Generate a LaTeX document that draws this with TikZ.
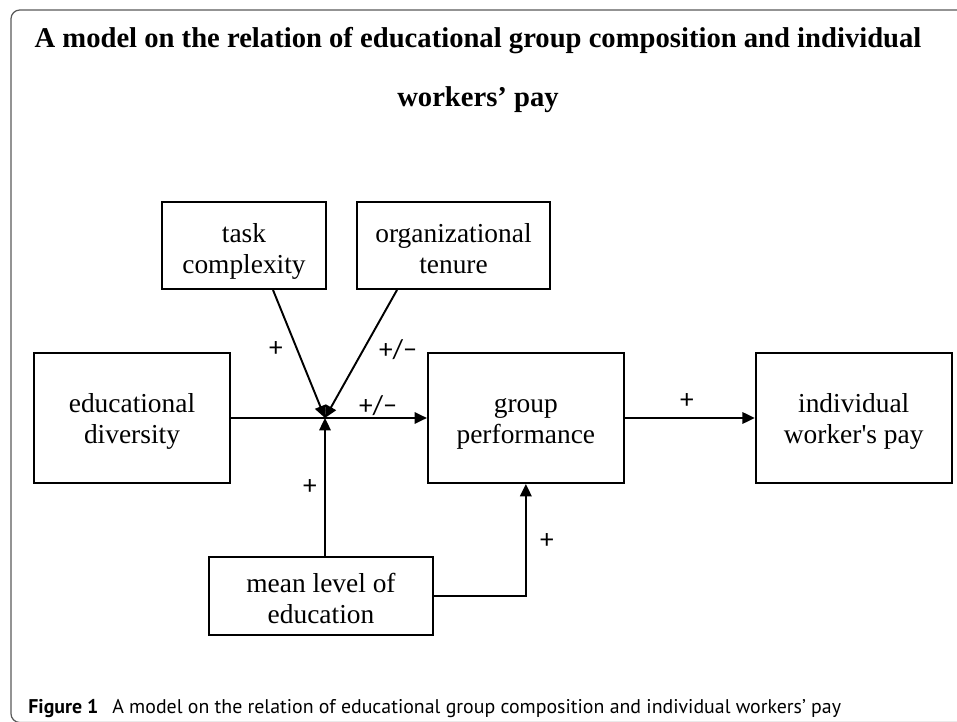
\documentclass[tikz,border=0pt]{standalone}
\usepackage{fontspec}
\setmainfont{Liberation Serif}
\setsansfont{PT Sans}
\newfontfamily\signfont{Carlito}
\usetikzlibrary{positioning, arrows.meta}

\begin{document}
\begin{tikzpicture}[
    x=0.02cm, y=-0.02cm,
    factor/.style={rectangle, draw=black, line width=1.1pt, minimum width=3.92cm, minimum height=2.6cm, align=center, font=\fontsize{15.6}{17.6}\selectfont, inner sep=2pt, text height=34pt, text depth=4.5pt},
    moderator/.style={factor, minimum height=1.74cm, text height=36pt},
    arrow/.style={line width=1.1pt, -{Triangle[length=7pt, width=6.5pt]}},
    sign/.style={font=\signfont\fontsize{15.5}{16}\selectfont, inner sep=1pt},
]

% Frame
\useasboundingbox (0,0) rectangle (957,722);
\draw[black!65, line width=0.7pt, rounded corners=5pt] (11,10) rectangle (1010,722.5);

% Title
\node[font=\bfseries\fontsize{16.3}{34}\selectfont, align=center] (title) at (478,70) {A model on the relation of educational group composition and individual\\workers' pay};

% Main row
\node[factor] (diversity) at (132,418) {educational\\diversity};
\node[factor, right=3.92cm of diversity] (perf) {group\\performance};
\node[factor, right=2.6cm of perf] (pay) {individual\\worker\textquotesingle s pay};

% Moderators
\node[moderator, minimum width=3.28cm] (task) at (244,245.5) {task\\complexity};
\node[moderator, minimum width=3.86cm] (tenure) at (453.5,245.5) {organizational\\tenure};
\node[factor, minimum width=4.48cm, minimum height=1.56cm, text height=36pt] (mean) at (321,596) {mean level of\\education};

% Junction of the moderators
\coordinate (mod) at (325,418);

% Arrows
\draw[arrow] (diversity) -- (perf);
\draw[arrow] ([xshift=0.58cm]task.south) -- (mod);
\draw[arrow] ([xshift=-1.13cm]tenure.south) -- (mod);
\draw[arrow] (mean.north -| mod) -- (mod);
\draw[arrow] (mean.east) -| (perf.south);
\draw[arrow] (perf) -- (pay);

% Signs
\node[sign] (signtask) at (276,349) {+};
\node[sign] (signtenure) at (398,350) {+/−};
\node[sign] (signdiv) at (378,406) {+/−};
\node[sign] (signpay) at (687,401) {+};
\node[sign] (signmean) at (310,487) {+};
\node[sign] (signlevel) at (547,541) {+};

% Caption
\node[anchor=base west, font=\sffamily\fontsize{11.3}{13}\selectfont, inner sep=0pt] (caption) at (28,713) {\textbf{Figure 1}\hspace{0.7em}A model on the relation of educational group composition and individual workers’ pay};

\end{tikzpicture}
\end{document}
